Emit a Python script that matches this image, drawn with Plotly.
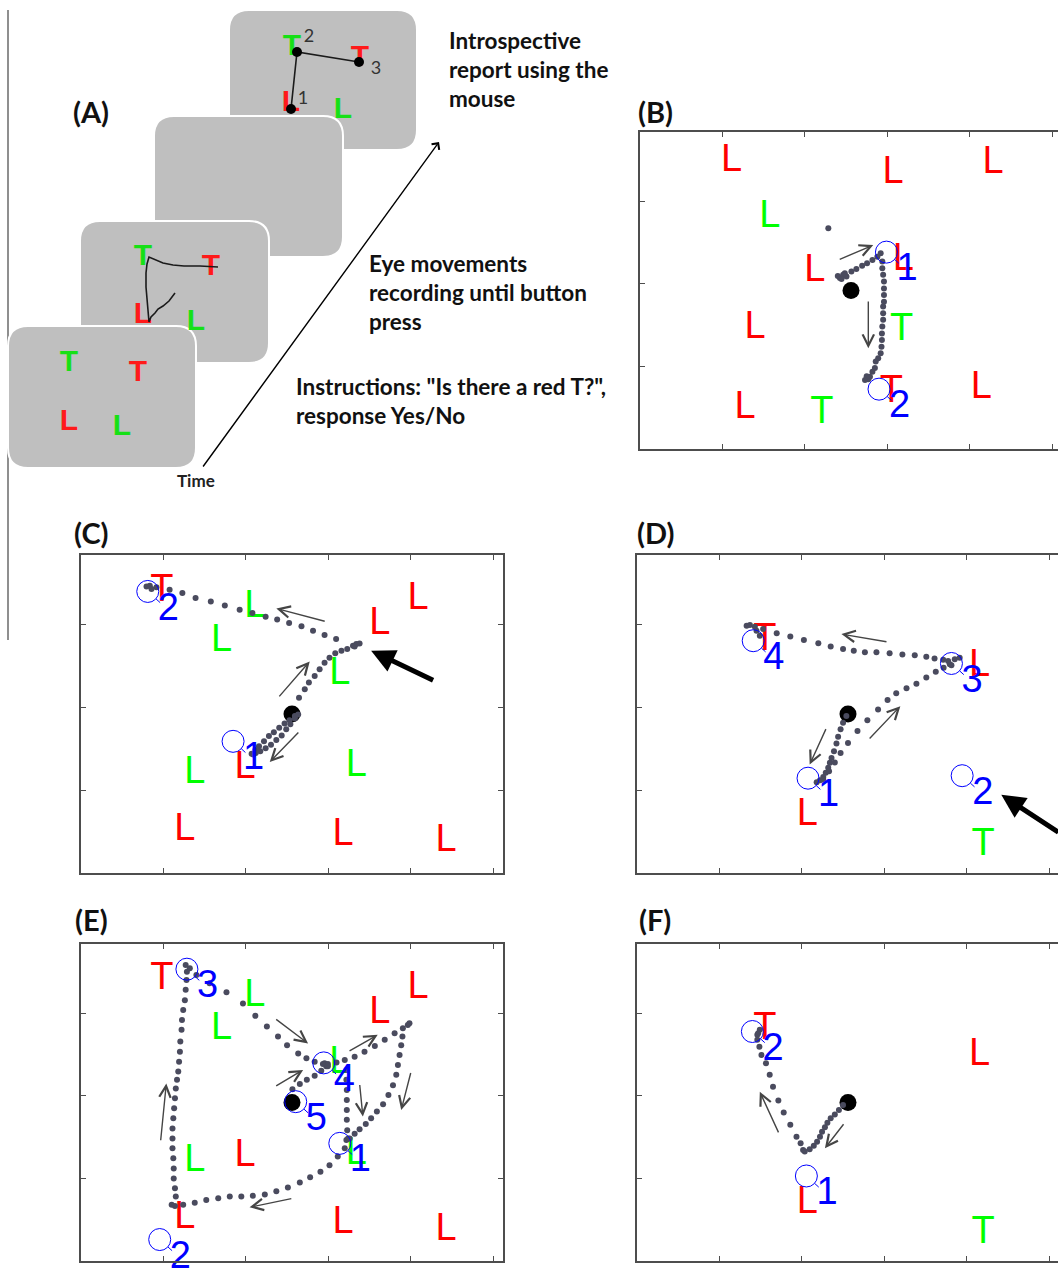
import plotly.graph_objects as go

W, H = 1058, 1271

# ======================= DATA =======================
# Gaze / stimulus coordinates in screen pixels (1024 x 768 display, origin bottom-left)
START_X, START_Y = 512, 384          # central fixation point

# ---- Panel B ----
B_letters = ['L', 'L', 'L', 'L', 'L', 'L', 'T', 'L', 'T', 'L', 'L', 'T']
B_colors = ['red', 'red', 'red', 'green', 'red', 'red', 'green', 'red', 'red', 'red', 'red', 'green']
B_lx = [222, 614, 857, 315, 424, 639, 635, 279, 610, 828, 255, 441]
B_ly = [705, 676, 700, 571, 438, 466, 297, 300, 147, 155, 107, 95]
B_fix_x = [598, 580]
B_fix_y = [477, 145]
B_gaze_x = [485, 493, 501, 497, 480, 489, 513, 525, 539, 551, 564, 576, 584,
            588, 588, 590, 592, 592, 592, 592, 590, 590, 590, 588, 587, 587, 586, 584,
            578, 572, 570, 564, 558, 554, 550, 546, 457]
B_gaze_y = [414, 422, 418, 426, 419, 412, 430, 436, 444, 450, 458, 466, 474,
            454, 438, 422, 406, 389, 373, 357, 345, 329, 313, 297, 280, 264, 248, 232,
            220, 212, 196, 187, 175, 169, 176, 167, 535]
B_arrows = [(481, 458, 566, 494), (554, 361, 554, 244)]
B_big_arrows = []

# ---- Panels C and E share one display ----
CE_letters = ['T', 'L', 'L', 'L', 'L', 'L', 'L', 'L', 'L', 'L', 'L', 'L']
CE_colors = ['red', 'green', 'green', 'red', 'red', 'green', 'green', 'red', 'green', 'red', 'red', 'red']
CE_lx = [196, 422, 341, 818, 725, 628, 276, 398, 668, 252, 636, 886]
CE_ly = [690, 650, 569, 670, 609, 488, 250, 262, 266, 112, 100, 84]

C_fix_x = [369, 162]
C_fix_y = [318, 680]
C_gaze_x = [519, 506, 494, 481, 468, 456, 444, 432, 423, 414, 418, 424,
            435, 448, 461, 474, 487, 498, 508, 519, 527,
            529, 543, 553, 567, 579, 591, 603, 617, 632, 646, 660, 668, 676, 664,
            619, 591, 563, 535, 505, 476, 448, 416, 385, 349, 315, 278, 246, 215, 183, 167, 159, 171]
C_gaze_y = [379, 369, 361, 351, 340, 331, 318, 306, 297, 288, 286, 290,
            294, 301, 310, 321, 332, 347, 359, 373, 383,
            423, 444, 460, 476, 492, 508, 520, 531, 537, 541, 549, 553, 554, 547,
            565, 575, 585, 596, 604, 612, 619, 628, 636, 646, 656, 664, 676, 684, 690, 694, 692, 686]
C_arrows = [(595, 607, 474, 639), (478, 423, 555, 511), (531, 343, 458, 268)]
C_big_arrows = [(858, 464, 704, 537)]

E_fix_x = [628, 191, 257, 589, 521]
E_fix_y = [285, 52, 707, 480, 386]
E_gaze_x = [513, 531, 548, 567, 583, 595, 591, 599, 620, 640, 664, 688, 713, 737, 761, 781, 793, 797,
            780, 777, 773, 769, 765, 757, 746, 733, 718, 704, 691, 676, 664, 652, 644,
            640, 623, 603, 581, 556, 531, 502, 474, 446, 417, 389, 361, 333, 304, 276, 248, 228, 220,
            230, 228, 225, 225, 224, 222, 222, 222, 224, 226, 228, 230, 233, 236, 238, 240, 241, 244,
            245, 248, 252, 254, 256, 257, 254, 264,
            280, 312, 353, 393, 423, 451, 478, 500, 527, 547, 567, 587, 599,
            644, 644, 645, 645, 645, 645, 646, 648]
E_gaze_y = [416, 429, 439, 449, 461, 472, 479, 477, 481, 487, 495, 507, 521, 536, 552, 564, 572, 576,
            544, 523, 499, 475, 451, 426, 402, 380, 362, 346, 332, 319, 308, 297, 293,
            273, 253, 232, 216, 203, 190, 178, 169, 161, 158, 156, 156, 152, 148, 141, 136, 133, 136,
            156, 176, 200, 224, 249, 273, 297, 321, 346, 370, 394, 418, 439, 459, 483, 507, 532, 560,
            584, 608, 632, 657, 681, 701, 717, 709,
            693, 673, 651, 624, 594, 568, 544, 523, 503, 491, 483, 477, 472,
            463, 439, 414, 390, 366, 342, 317, 297]
E_arrows = [(470, 422, 539, 463), (648, 507, 720, 548), (470, 588, 551, 527), (676, 430, 684, 350),
            (801, 459, 777, 366), (514, 152, 409, 130), (193, 289, 207, 430)]
E_big_arrows = []

# ---- Panels D and F share one display ----
DF_letters = ['T', 'L', 'L', 'T']
DF_colors = ['red', 'red', 'red', 'green']
DF_lx = [310, 831, 413, 840]
DF_ly = [571, 508, 149, 76]

D_fix_x = [415, 789, 763, 282]
D_fix_y = [229, 235, 506, 561]
D_gaze_x = [508, 500, 494, 488, 484, 478, 472, 468, 464, 458, 452, 444, 436,
            452, 466, 480, 494, 512, 535, 559, 585, 608, 629, 654, 678, 702, 725, 744, 759, 771, 783, 763, 755,
            743, 722, 702, 674, 644, 613, 581, 553, 526, 500, 470, 440, 405, 372, 339, 306, 286, 274, 266, 290, 298]
D_gaze_y = [379, 363, 347, 329, 313, 294, 278, 266, 254, 242, 232, 224, 219,
            225, 246, 267, 290, 314, 343, 369, 395, 418, 434, 446, 457, 472, 486, 496, 504, 516, 520, 502, 512,
            515, 518, 522, 526, 528, 531, 533, 533, 537, 541, 547, 555, 563, 571, 579, 589, 595, 599, 597, 585, 573]
D_arrows = [(609, 558, 496, 577), (460, 351, 419, 262), (561, 321, 639, 403)]
D_big_arrows = [(1026, 96, 884, 189)]

F_fix_x = [411, 280]
F_fix_y = [206, 556]
F_gaze_x = [500, 490, 480, 470, 462, 456, 449, 444, 437, 429, 419, 407, 403, 397, 387, 372, 356, 343,
            330, 322, 313, 302, 297, 292, 292, 298, 294]
F_gaze_y = [378, 366, 355, 346, 335, 324, 313, 301, 289, 279, 271, 265, 269, 285, 301, 330, 360, 389,
            422, 451, 479, 499, 519, 536, 548, 560, 552]
F_arrows = [(345, 308, 298, 410), (504, 335, 456, 273)]
F_big_arrows = []

# ---- Panel A (schematic, figure pixel coordinates) ----
A_letters = ['T', 'T', 'L', 'L', 'T', 'T', 'L', 'L', 'T', 'T', 'L', 'L']
A_colors = ['green', 'red', 'red', 'green', 'green', 'red', 'red', 'green', 'green', 'red', 'red', 'green']
A_lx = [69, 138, 69, 122, 143, 211, 143, 196, 292, 360, 291, 343]
A_ly = [363, 373, 422, 427, 257, 267, 315, 322, 47, 58, 103, 110]
A_trace_x = [175, 169, 163, 158, 155, 151, 149, 148, 147, 146, 146, 147, 149, 156, 163, 173, 184, 200, 218]
A_trace_y = [293, 301, 306, 309, 313, 317, 322, 311, 300, 287, 273, 264, 257, 260, 263, 265, 266, 266, 267]
A_report_x = [291, 297, 359]
A_report_y = [109, 52, 62]
A_report_labels = ['1', '2', '3']
A_report_label_x = [303, 309, 376]
A_report_label_y = [99, 37, 69]
A_texts = [
    ('Introspective', 447, 40), ('report using the', 447, 69), ('mouse', 447, 98),
    ('Eye movements', 367, 263), ('recording until button', 367, 292), ('press', 367, 321),
    ('Instructions: "Is there a red T?",', 294, 386), ('response Yes/No', 294, 415),
]
PANEL_LABELS = ['(A)', '(B)', '(C)', '(D)', '(E)', '(F)']

# ======================= STYLE / LAYOUT =======================
COLORMAP = {'red': '#ff0000', 'green': '#00ff00'}
COLORMAP_A = {'red': '#ff1a1a', 'green': '#16e016'}
BLUE = '#0000ff'
GAZE = '#4a4b5e'
FRAME = '#4d4d4d'
LETTER_FONT = 'Liberation Sans, Arial, sans-serif'
TEXT_FONT = 'Lato, Open Sans, sans-serif'
PXU = 422 / 1024.0                   # figure px per screen px
NUM_DX, NUM_DY = 50, -45             # number label offset from fixation circle (screen px)
TEXT_DY = -9                         # glyph baseline correction for letters (screen px)

# pixel boxes (left, top, right, bottom)
boxes = {
    'B': (640, 132, W, 449),
    'C': (81, 555, 503, 873),
    'D': (637, 555, W, 873),
    'E': (81, 944, 503, 1261),
    'F': (637, 944, W, 1261),
}
label_pos = {'(A)': (91, 111), '(B)': (655, 111), '(C)': (91, 532), '(D)': (655, 532),
             '(E)': (91, 919), '(F)': (655, 919)}

panels = [
    ('B', B_letters, B_colors, B_lx, B_ly, B_fix_x, B_fix_y, B_gaze_x, B_gaze_y, B_arrows, B_big_arrows),
    ('C', CE_letters, CE_colors, CE_lx, CE_ly, C_fix_x, C_fix_y, C_gaze_x, C_gaze_y, C_arrows, C_big_arrows),
    ('D', DF_letters, DF_colors, DF_lx, DF_ly, D_fix_x, D_fix_y, D_gaze_x, D_gaze_y, D_arrows, D_big_arrows),
    ('E', CE_letters, CE_colors, CE_lx, CE_ly, E_fix_x, E_fix_y, E_gaze_x, E_gaze_y, E_arrows, E_big_arrows),
    ('F', DF_letters, DF_colors, DF_lx, DF_ly, F_fix_x, F_fix_y, F_gaze_x, F_gaze_y, F_arrows, F_big_arrows),
]

fig = go.Figure()
layout_axes = {}
annotations = []
shapes = []

for i, (name, let, col, lx, ly, fx, fy, gx, gy, arrs, bigs) in enumerate(panels):
    n = i + 1
    xa = 'x' if n == 1 else f'x{n}'
    ya = 'y' if n == 1 else f'y{n}'
    l, t, r, b = boxes[name]
    xr = (r - l) / PXU
    common = dict(showline=True, linecolor=FRAME, linewidth=1.5, ticks='inside', ticklen=5,
                  tickcolor=FRAME, tickwidth=1.2, showticklabels=False, showgrid=False,
                  zeroline=False, fixedrange=True)
    layout_axes['xaxis' if n == 1 else f'xaxis{n}'] = dict(
        common, domain=[l / W, r / W], range=[0, xr], tickvals=[200, 400, 600, 800, 1000],
        mirror='ticks', anchor=ya)
    layout_axes['yaxis' if n == 1 else f'yaxis{n}'] = dict(
        common, domain=[1 - b / H, 1 - t / H], range=[0, 768], tickvals=[200, 400, 600],
        mirror='ticks' if r < W else False, anchor=xa)

    # stimulus letters
    fig.add_trace(go.Scatter(x=lx, y=[v + TEXT_DY for v in ly], mode='text', text=let, xaxis=xa, yaxis=ya,
                             textfont=dict(family=LETTER_FONT, size=38, color=[COLORMAP[c] for c in col]),
                             cliponaxis=False, hoverinfo='skip', showlegend=False))
    # start point
    fig.add_trace(go.Scatter(x=[START_X], y=[START_Y], mode='markers', xaxis=xa, yaxis=ya,
                             marker=dict(size=17, color='black'), hoverinfo='skip', showlegend=False))
    # gaze samples
    fig.add_trace(go.Scatter(x=gx, y=gy, mode='markers', xaxis=xa, yaxis=ya,
                             marker=dict(size=6, color=GAZE), hoverinfo='skip', showlegend=False))
    # reported fixations
    fig.add_trace(go.Scatter(x=fx, y=fy, mode='markers', xaxis=xa, yaxis=ya,
                             marker=dict(symbol='circle-open', size=22, color=BLUE, line=dict(width=1)),
                             cliponaxis=False, hoverinfo='skip', showlegend=False))
    # circle tails
    tx, ty = [], []
    for cx, cy in zip(fx, fy):
        tx += [cx + 20, cx + 30, None]
        ty += [cy - 18, cy - 27, None]
    fig.add_trace(go.Scatter(x=tx, y=ty, mode='lines', xaxis=xa, yaxis=ya,
                             line=dict(color=BLUE, width=1), cliponaxis=False,
                             hoverinfo='skip', showlegend=False))
    # fixation numbers
    fig.add_trace(go.Scatter(x=[v + NUM_DX for v in fx], y=[v + NUM_DY for v in fy], mode='text',
                             text=[str(k + 1) for k in range(len(fx))], xaxis=xa, yaxis=ya,
                             textfont=dict(family=LETTER_FONT, size=38, color=BLUE),
                             cliponaxis=False, hoverinfo='skip', showlegend=False))
    for (x0, y0, x1, y1) in arrs:
        annotations.append(dict(x=x1, y=y1, ax=x0, ay=y0, xref=xa, yref=ya, axref=xa, ayref=ya,
                                text='', showarrow=True, arrowhead=5, arrowsize=1.6, arrowwidth=1.4,
                                arrowcolor='#454545', standoff=0, startstandoff=0))
    for (x0, y0, x1, y1) in bigs:
        annotations.append(dict(x=x1, y=y1, ax=x0, ay=y0, xref=xa, yref=ya, axref=xa, ayref=ya,
                                text='', showarrow=True, arrowhead=2, arrowsize=0.95, arrowwidth=5,
                                arrowcolor='black', standoff=0, startstandoff=0))

# ---------- Panel A overlay axis (figure pixel coordinates) ----------
layout_axes['xaxis6'] = dict(domain=[0, 1], range=[0, W], visible=False, anchor='y6', fixedrange=True)
layout_axes['yaxis6'] = dict(domain=[0, 1], range=[H, 0], visible=False, anchor='x6', fixedrange=True)


def rrect(x0, y0, x1, y1, rad):
    return (f'M{x0 + rad},{y0} L{x1 - rad},{y0} Q{x1},{y0} {x1},{y0 + rad} '
            f'L{x1},{y1 - rad} Q{x1},{y1} {x1 - rad},{y1} L{x0 + rad},{y1} '
            f'Q{x0},{y1} {x0},{y1 - rad} L{x0},{y0 + rad} Q{x0},{y0} {x0 + rad},{y0} Z')


shapes.append(dict(type='line', xref='x6', yref='y6', x0=8, x1=8, y0=10, y1=640,
                   line=dict(color='#8f8f8f', width=2), layer='below'))
for (x0, y0, x1, y1) in [(229, 10, 417, 150), (154, 116, 343, 257), (80, 221, 269, 363), (8, 326, 196, 468)]:
    shapes.append(dict(type='path', xref='x6', yref='y6', path=rrect(x0, y0, x1, y1, 20),
                       fillcolor='#bfbfbf', line=dict(color='white', width=2), layer='below'))

fig.add_trace(go.Scatter(x=A_lx, y=A_ly, mode='text', text=A_letters, xaxis='x6', yaxis='y6',
                         textfont=dict(family=LETTER_FONT, size=30, weight='bold',
                                       color=[COLORMAP_A[c] for c in A_colors]),
                         hoverinfo='skip', showlegend=False))
fig.add_trace(go.Scatter(x=A_trace_x, y=A_trace_y, mode='lines', xaxis='x6', yaxis='y6',
                         line=dict(color='#1a1a1a', width=1.6), hoverinfo='skip', showlegend=False))
fig.add_trace(go.Scatter(x=A_report_x, y=A_report_y, mode='lines+markers', xaxis='x6', yaxis='y6',
                         line=dict(color='#1a1a1a', width=1.6), marker=dict(size=10, color='black'),
                         hoverinfo='skip', showlegend=False))
fig.add_trace(go.Scatter(x=A_report_label_x, y=A_report_label_y, mode='text',
                         text=A_report_labels, xaxis='x6', yaxis='y6',
                         textfont=dict(family=TEXT_FONT, size=18, color='#333333'),
                         hoverinfo='skip', showlegend=False))

annotations.append(dict(x=439, y=142, ax=202, ay=468, xref='x6', yref='y6', axref='x6', ayref='y6',
                        text='', showarrow=True, arrowhead=4, arrowsize=1.3, arrowwidth=1.4,
                        arrowcolor='black', standoff=0, startstandoff=0))
annotations.append(dict(x=196, y=480, xref='x6', yref='y6', text='Time', showarrow=False,
                        font=dict(family=TEXT_FONT, size=17, weight='bold', color='#222')))
for txt, x, y in A_texts:
    annotations.append(dict(x=x, y=y, xref='x6', yref='y6', text=txt, showarrow=False,
                            xanchor='left', yanchor='middle',
                            font=dict(family=TEXT_FONT, size=22.5, weight='bold', color='#111')))
for lab in PANEL_LABELS:
    x, y = label_pos[lab]
    annotations.append(dict(x=x, y=y, xref='x6', yref='y6', text=lab, showarrow=False,
                            font=dict(family=TEXT_FONT, size=29, weight='bold', color='#111')))

fig.update_layout(
    width=W, height=H, margin=dict(l=0, r=0, t=0, b=0, pad=0),
    paper_bgcolor='white', plot_bgcolor='rgba(0,0,0,0)', showlegend=False,
    annotations=annotations, shapes=shapes, **layout_axes)

fig.write_html('out.html', config={'displayModeBar': False},
               post_script="document.body.style.margin='0px';")
